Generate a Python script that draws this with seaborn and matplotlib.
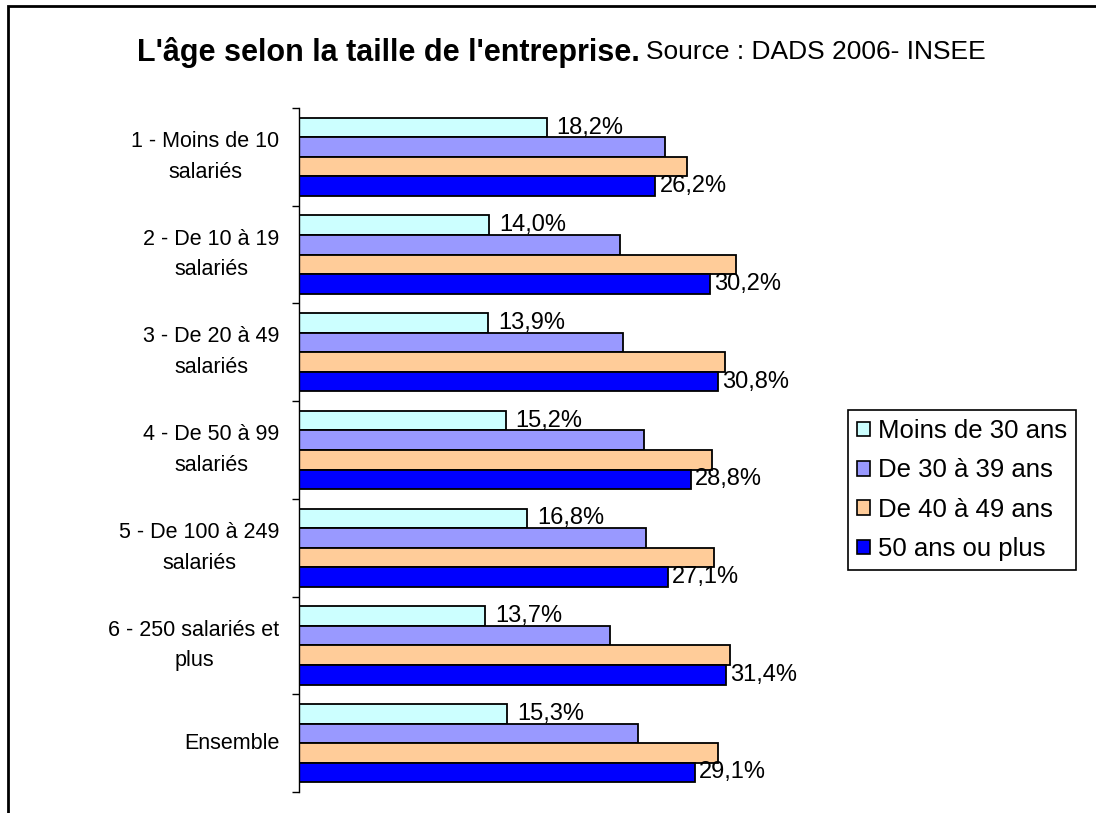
import pandas as pd
import matplotlib.pyplot as plt
import seaborn as sns
from matplotlib.patches import Rectangle, Patch

# Data (% of employees)
categories = ["1 - Moins de 10\nsalariés", "2 - De 10 à 19\nsalariés", "3 - De 20 à 49\nsalariés",
              "4 - De 50 à 99\nsalariés", "5 - De 100 à 249\nsalariés", "6 - 250 salariés et\nplus",
              "Ensemble"]
groups = ["Moins de 30 ans", "De 30 à 39 ans", "De 40 à 49 ans", "50 ans ou plus"]
moins_30 = [18.2, 14.0, 13.9, 15.2, 16.8, 13.7, 15.3]
de_30_39 = [26.9, 23.6, 23.8, 25.4, 25.5, 22.9, 24.9]
de_40_49 = [28.5, 32.1, 31.3, 30.4, 30.5, 31.7, 30.8]
plus_50 = [26.2, 30.2, 30.8, 28.8, 27.1, 31.4, 29.1]
colors = ["#CCFFFF", "#9999FF", "#FFCC99", "#0000FF"]

rows = []
for g, vals in zip(groups, [moins_30, de_30_39, de_40_49, plus_50]):
    for c, v in zip(categories, vals):
        rows.append({"Taille": c, "Age": g, "Part": v})
df = pd.DataFrame(rows)

sns.set_style("white")
plt.rcParams["font.family"] = ["Liberation Sans", "DejaVu Sans"]
plt.rcParams["text.color"] = "black"
plt.rcParams["ytick.color"] = "black"
plt.rcParams["ytick.labelcolor"] = "black"

W, H = 1096, 813
fig = plt.figure(figsize=(W / 100, H / 100), dpi=100)
# axes placed in pixel terms: spine at x=299, from y=108 to y=792
left, right, top, bottom = 299, 843, 108, 792
ax = fig.add_axes([left / W, 1 - bottom / H, (right - left) / W, (bottom - top) / H])

sns.barplot(data=df, y="Taille", x="Part", hue="Age", orient="h", palette=colors,
            hue_order=groups, order=categories, width=0.8, edgecolor="black",
            linewidth=1.3, saturation=1, legend=False, ax=ax)

ax.set_xlim(0, 40)
ax.set_ylim(len(categories) - 0.5, -0.5)
ax.set_xlabel("")
ax.set_ylabel("")
ax.xaxis.set_visible(False)
for s in ["top", "right", "bottom"]:
    ax.spines[s].set_visible(False)
ax.spines["left"].set_linewidth(1.0)
ax.spines["left"].set_color("black")

# labels centred on categories, tick marks at category boundaries
ax.set_yticks(range(len(categories)))
ax.set_yticklabels(categories, fontsize=15.5, ha="right", va="center",
                   multialignment="center", linespacing=1.6, color="black")
ax.tick_params(axis="y", which="major", left=False, length=0, pad=14)
ax.set_yticks([i - 0.5 for i in range(len(categories) + 1)], minor=True)
ax.tick_params(axis="y", which="minor", left=True, length=5, width=1, color="black",
               direction="out")

fmt = lambda v: f"{v:.1f}%".replace(".", ",")
ax.bar_label(ax.containers[0], labels=[fmt(v) for v in moins_30], padding=7, fontsize=17)
ax.bar_label(ax.containers[3], labels=[fmt(v) for v in plus_50], padding=3, fontsize=17)

# legend
handles = [Patch(facecolor=c, edgecolor="black", linewidth=1.2) for c in colors]
leg = fig.legend(handles, groups, loc="upper left", bbox_to_anchor=(848 / W, 1 - 410 / H),
                 fontsize=18.5, frameon=True, fancybox=False, edgecolor="black", framealpha=1,
                 handlelength=0.5, handleheight=0.5, handletextpad=0.3, labelspacing=0.6,
                 borderpad=0.35, borderaxespad=0)
leg.get_frame().set_linewidth(1.2)

# title
fig.text(137 / W, 1 - 52 / H, "L'âge selon la taille de l'entreprise.", fontsize=22,
         fontweight="bold", ha="left", va="center")
fig.text(646 / W, 1 - 52 / H, "Source : DADS 2006- INSEE", fontsize=19, ha="left", va="center")

# outer frame (right and bottom sides are cut off in the reference)
fig.patches.append(Rectangle((8 / W, -0.1), 1.2, 1 - 6 / H + 0.1, transform=fig.transFigure,
                             fill=False, edgecolor="black", linewidth=2))

fig.savefig("out.png", dpi=100)
